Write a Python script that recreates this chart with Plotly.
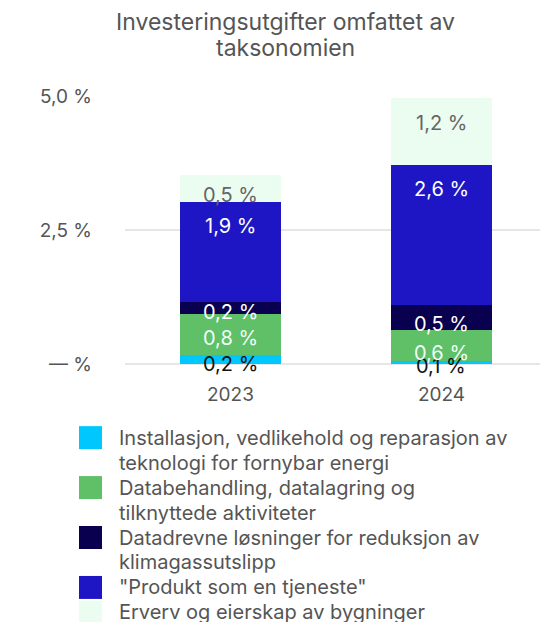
import plotly.graph_objects as go

# Categories and series (share of capex, in percent)
years = ["2023", "2024"]
series_names = [
    "Installasjon, vedlikehold og reparasjon av teknologi for fornybar energi",
    "Databehandling, datalagring og tilknyttede aktiviteter",
    "Datadrevne løsninger for reduksjon av klimagassutslipp",
    "\"Produkt som en tjeneste\"",
    "Erverv og eierskap av bygninger",
]
legend_lines = [
    ["Installasjon, vedlikehold og reparasjon av", "teknologi for fornybar energi"],
    ["Databehandling, datalagring og", "tilknyttede aktiviteter"],
    ["Datadrevne løsninger for reduksjon av", "klimagassutslipp"],
    ["\"Produkt som en tjeneste\""],
    ["Erverv og eierskap av bygninger"],
]
installasjon = [0.16, 0.06]
databehandling = [0.78, 0.58]
datadrevne = [0.22, 0.46]
produkt = [1.87, 2.62]
bygninger = [0.49, 1.24]

tick_values = [0, 2.5, 5.0]
tick_labels = ["— %", "2,5 %", "5,0 %"]

title_lines = ["Investeringsutgifter omfattet av", "taksonomien"]

series_values = [installasjon, databehandling, datadrevne, produkt, bygninger]
colors = ["#00c8ff", "#5fc068", "#0a0050", "#1e15c4", "#ebfdf1"]
label_colors = ["#111111", "#f0fff4", "#ffffff", "#ffffff", "#666666"]

FONT = "Inter"
TEXT_GREY = "#555555"

W, H = 540, 622
ML, MR, MT = 125, 0, 96
MB = H - 364.3
Y_MAX = 5.0
PX_PER_UNIT = (H - MT - MB) / Y_MAX


def px_x(px):
    return (px - ML) / (W - ML - MR)


def px_y(py):
    return (H - MB - py) / (H - MT - MB)


def fmt(v):
    return f"{v:.1f}".replace(".", ",") + " %"


fig = go.Figure()

for name, vals, col in zip(series_names, series_values, colors):
    fig.add_trace(go.Bar(
        x=years, y=vals, name=name, marker=dict(color=col, line=dict(width=0)),
        width=0.48, showlegend=False, hoverinfo="skip",
    ))

annotations = []

# Value labels, hung just below the top of each segment
base = [0.0 for _ in years]
for vals, lcol in zip(series_values, label_colors):
    for i, v in enumerate(vals):
        top = base[i] + v
        seg_px = v * PX_PER_UNIT
        annotations.append(dict(
            text=fmt(v), x=i, y=top, xref="x", yref="y",
            yshift=-min(24.5, 3 + 0.65 * seg_px), yanchor="middle",
            xanchor="center", showarrow=False,
            font=dict(family=FONT, size=20, color=lcol),
        ))
        base[i] = top

# Title, one annotation per line
for k, t in enumerate(title_lines):
    annotations.append(dict(
        text=t, xref="paper", yref="paper", x=px_x(285), y=px_y(22 + 26 * k),
        xanchor="center", yanchor="middle", showarrow=False,
        font=dict(family=FONT, size=23, color=TEXT_GREY),
    ))

# Legend built from swatches and text lines
shapes = []
line_idx = 0
first_line_y = 438.0
line_step = 25.0
for lines, col in zip(legend_lines, colors):
    cy = first_line_y + line_step * line_idx
    shapes.append(dict(
        type="rect", xref="paper", yref="paper",
        x0=px_x(79), x1=px_x(102), y0=px_y(cy + 11.5), y1=px_y(cy - 11.5),
        fillcolor=col, line=dict(width=0), layer="above",
    ))
    for ln in lines:
        ly = first_line_y + line_step * line_idx
        annotations.append(dict(
            text=ln, xref="paper", yref="paper", x=px_x(117), y=px_y(ly),
            xanchor="left", yanchor="middle", showarrow=False,
            font=dict(family=FONT, size=20, color=TEXT_GREY),
        ))
        line_idx += 1

fig.update_layout(
    width=W, height=H,
    margin=dict(l=ML, r=MR, t=MT, b=MB, autoexpand=False),
    barmode="stack",
    plot_bgcolor="white", paper_bgcolor="white",
    font=dict(family=FONT, size=19, color=TEXT_GREY),
    xaxis=dict(
        type="category", range=[-0.5, 1.467], showgrid=False, showline=False,
        zeroline=False, ticks="", ticklabelstandoff=17,
        tickfont=dict(family=FONT, size=19, color=TEXT_GREY),
    ),
    yaxis=dict(
        range=[0, Y_MAX], tickvals=tick_values, ticktext=tick_labels,
        showgrid=True, gridcolor="#e6e6e6", gridwidth=1.6,
        zeroline=True, zerolinecolor="#e6e6e6", zerolinewidth=1.6,
        showline=False, ticks="", ticklabelstandoff=32,
        tickfont=dict(family=FONT, size=19, color=TEXT_GREY),
    ),
    shapes=shapes,
    annotations=annotations,
)

fig.write_html("out.html")
